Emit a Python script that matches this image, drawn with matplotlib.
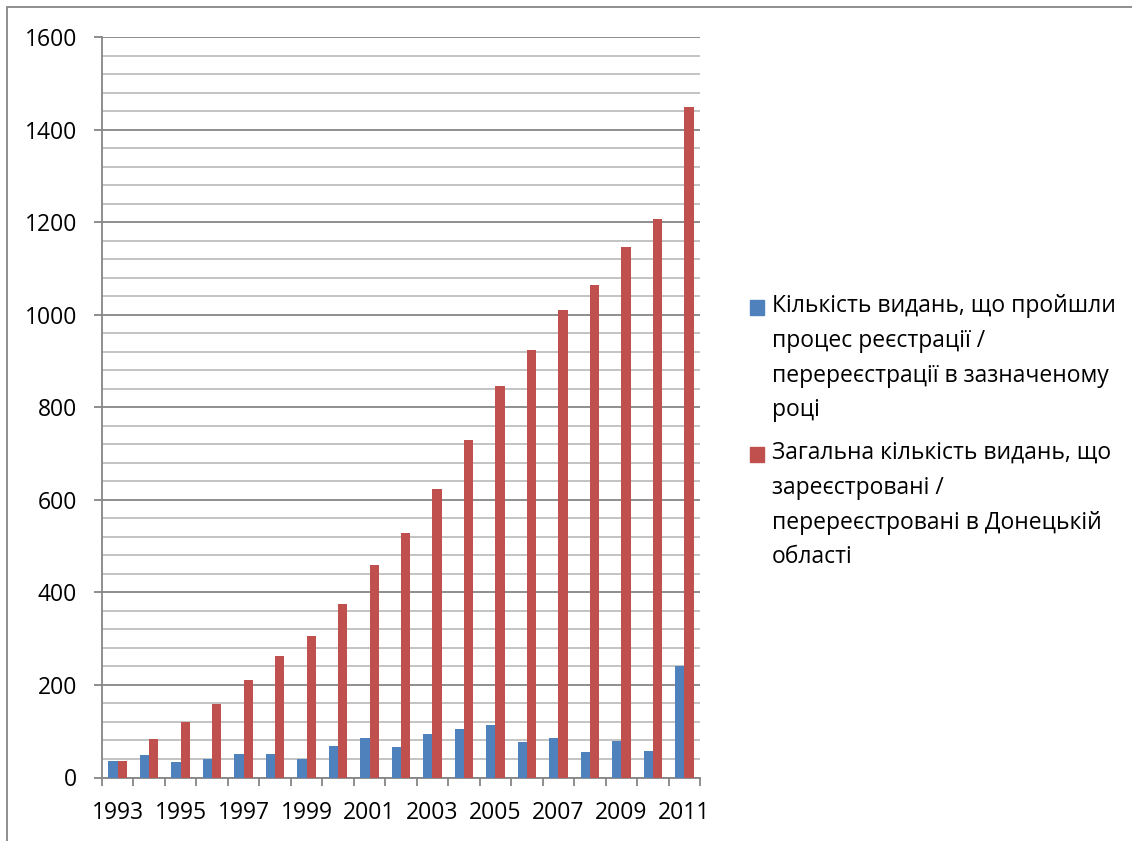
import numpy as np
import matplotlib
matplotlib.use("Agg")
import matplotlib.pyplot as plt
from matplotlib.patches import Rectangle
from matplotlib.ticker import MultipleLocator

plt.rcParams['font.family'] = ['Open Sans', 'DejaVu Sans']

# Data
years = list(range(1993, 2012))
registered_year = [35, 49, 34, 40, 50, 50, 41, 68, 85, 65, 94, 104, 113, 77, 85, 56, 79, 58, 241]
registered_total = [35, 84, 119, 159, 210, 262, 306, 375, 460, 528, 623, 730, 845, 923, 1010, 1065, 1146, 1206, 1449]
labels = [
    "Кількість видань, що пройшли\nпроцес реєстрації /\nперереєстрації в зазначеному\nроці",
    "Загальна кількість видань, що\nзареєстровані /\nперереєстровані в Донецькій\nобласті",
]
colors = ['#4F81BD', '#C0504D']

fig = plt.figure(figsize=(11.32, 8.41), dpi=100)
ax = fig.add_axes([102 / 1132, 1 - 777.5 / 841, 598 / 1132, 740.5 / 841])

x = np.arange(len(years))
w = 0.295
ax.bar(x - w / 2, registered_year, width=w, color=colors[0], zorder=3)
ax.bar(x + w / 2, registered_total, width=w, color=colors[1], zorder=3)

ax.set_xlim(-0.5, len(years) - 0.5)
ax.set_ylim(0, 1600)

# y axis: major every 200, minor gridlines every 40
ax.yaxis.set_major_locator(MultipleLocator(200))
ax.yaxis.set_minor_locator(MultipleLocator(40))
ax.grid(which='major', axis='y', color='#868686', linewidth=1.3, zorder=0)
ax.grid(which='minor', axis='y', color='#BEBEBE', linewidth=1.3, zorder=0)
ax.tick_params(axis='y', which='major', length=6, width=1.3, color='#868686',
               labelsize=16.5, pad=12)
ax.tick_params(axis='y', which='minor', length=0)

# x axis: ticks on category boundaries, labels every other year
ax.set_xticks(np.arange(-0.5, len(years), 1.0))
ax.set_xticklabels([])
ax.set_xticks(x[::2], minor=True)
ax.set_xticklabels([str(y) for y in years[::2]], minor=True)
ax.tick_params(axis='x', which='major', length=6, width=1.3, color='#868686')
ax.tick_params(axis='x', which='minor', length=0, labelsize=16.5, pad=17)

for s in ['top', 'right']:
    ax.spines[s].set_visible(False)
for s in ['left', 'bottom']:
    ax.spines[s].set_color('#868686')
    ax.spines[s].set_linewidth(1.3)

# legend drawn by hand so the marker sits on the first line
tops = [300, 447]
for lab, col, t in zip(labels, colors, tops):
    fig.patches.append(Rectangle((750 / 1132, 1 - (t + 15) / 841), 14 / 1132, 15 / 841,
                                 transform=fig.transFigure, color=col))
    fig.text(772 / 1132, 1 - (t - 6) / 841, lab, fontsize=16.5, va='top', ha='left',
             linespacing=1.6)

# outer chart border
fig.patches.append(Rectangle((7 / 1132, -0.01), 1.02, 1 - 7 / 841 + 0.01,
                             transform=fig.transFigure, fill=False,
                             edgecolor='#868686', linewidth=1.3))

fig.savefig('out.png', dpi=100)
